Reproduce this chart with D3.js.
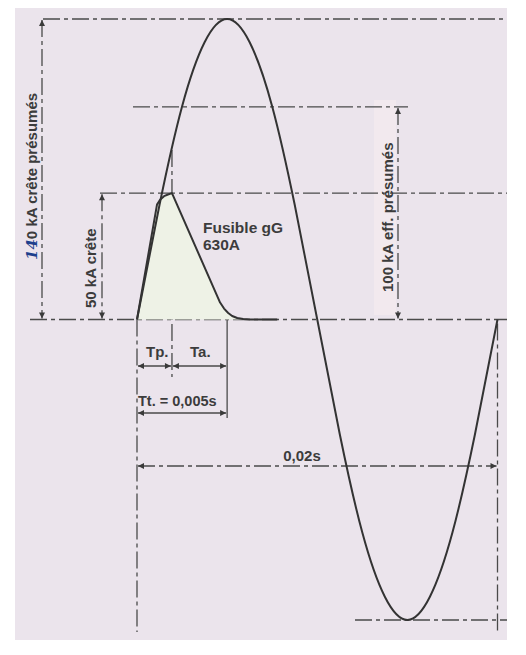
<!DOCTYPE html>
<html><head><meta charset="utf-8">
<script src="https://cdn.jsdelivr.net/npm/d3@7"></script>
<style>body{margin:0;background:#fff}svg{display:block}text{font-family:"Liberation Sans",Arial,Helvetica,sans-serif;font-weight:700;fill:#3c3c3c}</style>
</head><body><svg id="c" width="526" height="655"></svg>
<script>
// Prospective short-circuit current (schematic kA) sampled over one period (s)
const sineTime = [0,0.00125,0.0025,0.00375,0.005,0.00625,0.0075,0.00875,0.01,0.01125,0.0125,0.01375,0.015,0.01625,0.0175,0.01875,0.02];
const sineCurrent = [0,84,156,203,220,203,156,84,0,-84,-156,-203,-220,-203,-156,-84,0];
// Limited current through fuse gG 630A
const fuseTime = [0,0.00111,0.00128,0.0015,0.00172,0.00194,0.00461,0.00483,0.00506,0.00528,0.00556,0.00589,0.00628,0.00778];
const fuseCurrent = [0,84.1,87.7,90.3,91.5,92.5,12.4,8.0,4.8,2.6,1.1,0.3,0,0];
// Reference levels
const levelNames = ["crête présumés","eff. présumés","crête limitée"];
const levelValues = [220,155.6,92.5];
const timeMarks = [0,0.00194,0.005,0.02]; // start, Tp, Tt, period
const labels = {peak:"0 kA crête présumés", peakHand:"14", eff:"100 kA eff. présumés", fuse:"50 kA crête", fuseName:["Fusible gG","630A"], tp:"Tp.", ta:"Ta.", tt:"Tt. = 0,005s", period:"0,02s"};

const svg = d3.select("#c");
const x = d3.scaleLinear().domain([0,0.02]).range([137,497.5]);
const y = d3.scaleLinear().domain([-220,220]).range([620,19]);
const LC = "#4a4a4a", DASH = "17,4,4,4";

svg.append("rect").attr("x",15).attr("y",8).attr("width",492).attr("height",632).attr("fill","#ebe4ec");
svg.append("rect").attr("x",374).attr("y",100).attr("width",22).attr("height",215).attr("fill","#f2e9ee");

const defs = svg.append("defs");
defs.append("marker").attr("id","ar").attr("viewBox","0 0 10 10").attr("refX",10).attr("refY",5)
  .attr("markerUnits","userSpaceOnUse").attr("markerWidth",9).attr("markerHeight",6).attr("orient","auto-start-reverse")
  .append("path").attr("d","M0,0L10,5L0,10z").attr("fill","#3a3a3a");

function ln(x1,y1,x2,y2,dash,arrows,w){
  const l = svg.append("line").attr("x1",x1).attr("y1",y1).attr("x2",x2).attr("y2",y2)
    .attr("stroke",LC).attr("stroke-width",w||1.3);
  if(dash) l.attr("stroke-dasharray",dash);
  if(arrows){l.attr("marker-start","url(#ar)").attr("marker-end","url(#ar)");}
  return l;
}
const y0 = y(0);
// horizontal reference lines
ln(30,y0,507,y0,DASH);
ln(43,y(levelValues[0]),507,y(levelValues[0]),DASH);
ln(133,y(levelValues[1]),408,y(levelValues[1]),DASH);
ln(100,y(levelValues[2]),507,y(levelValues[2]),DASH);
ln(355,y(-220),507,y(-220),DASH);
// vertical lines
ln(x(timeMarks[0]),y0,x(timeMarks[0]),632,DASH);
ln(x(timeMarks[3]),y0+4,x(timeMarks[3]),632,DASH);
ln(x(timeMarks[1]),150,x(timeMarks[1]),377,DASH);
ln(x(timeMarks[2]),y0,x(timeMarks[2]),418,null);
// vertical dimension arrows
ln(42,y(levelValues[0])+1,42,y0-1,DASH,true);
ln(102,y(levelValues[2])+1,102,y0-1,DASH,true);
ln(398,y(levelValues[1])+1,398,y0-1,DASH,true);
// horizontal dimension arrows
ln(x(timeMarks[0])+1,366,x(timeMarks[1])-1,366,null,true);
ln(x(timeMarks[1])+1,366,x(timeMarks[2])-1,366,null,true);
ln(x(timeMarks[0])+1,413,x(timeMarks[2])-1,413,null,true);
ln(x(timeMarks[0])+1,466,x(timeMarks[3])-1,466,DASH,true);

// fuse area
const fd = fuseTime.map((t,i)=>({t,v:fuseCurrent[i]}));
svg.append("path").datum(fd).attr("fill","#eef2e6")
  .attr("d",d3.area().x(d=>x(d.t)).y0(y0).y1(d=>y(d.v)));
svg.append("path").datum(fd).attr("fill","none").attr("stroke","#333").attr("stroke-width",2).attr("stroke-linejoin","round")
  .attr("d",d3.line().x(d=>x(d.t)).y(d=>y(d.v)));
// sine
const sd = sineTime.map((t,i)=>({t,v:sineCurrent[i]}));
svg.append("path").datum(sd).attr("fill","none").attr("stroke","#333").attr("stroke-width",2)
  .attr("d",d3.line().curve(d3.curveNatural).x(d=>x(d.t)).y(d=>y(d.v)));

// texts
const fs = 15;
const t1 = svg.append("text").attr("transform","translate(37,260) rotate(-90)").attr("font-size",fs);
t1.append("tspan").text(labels.peakHand).attr("style","fill:#1d3f8c;font-style:italic;font-weight:700;font-family:'DejaVu Serif',serif");
t1.append("tspan").text(labels.peak);
svg.append("text").attr("transform","translate(96,308) rotate(-90)").attr("font-size",fs).text(labels.fuse);
svg.append("text").attr("transform","translate(393,292) rotate(-90)").attr("font-size",fs).text(labels.eff);
svg.append("text").attr("x",203).attr("y",233).attr("font-size",15.5).text(labels.fuseName[0]);
svg.append("text").attr("x",203).attr("y",250).attr("font-size",15.5).text(labels.fuseName[1]);
svg.append("text").attr("x",146).attr("y",357).attr("font-size",15).text(labels.tp);
svg.append("text").attr("x",190).attr("y",357).attr("font-size",15).text(labels.ta);
svg.append("text").attr("x",138).attr("y",406).attr("font-size",14.5).text(labels.tt);
svg.append("text").attr("x",302).attr("y",461).attr("font-size",15).attr("text-anchor","middle").text(labels.period);
</script></body></html>
